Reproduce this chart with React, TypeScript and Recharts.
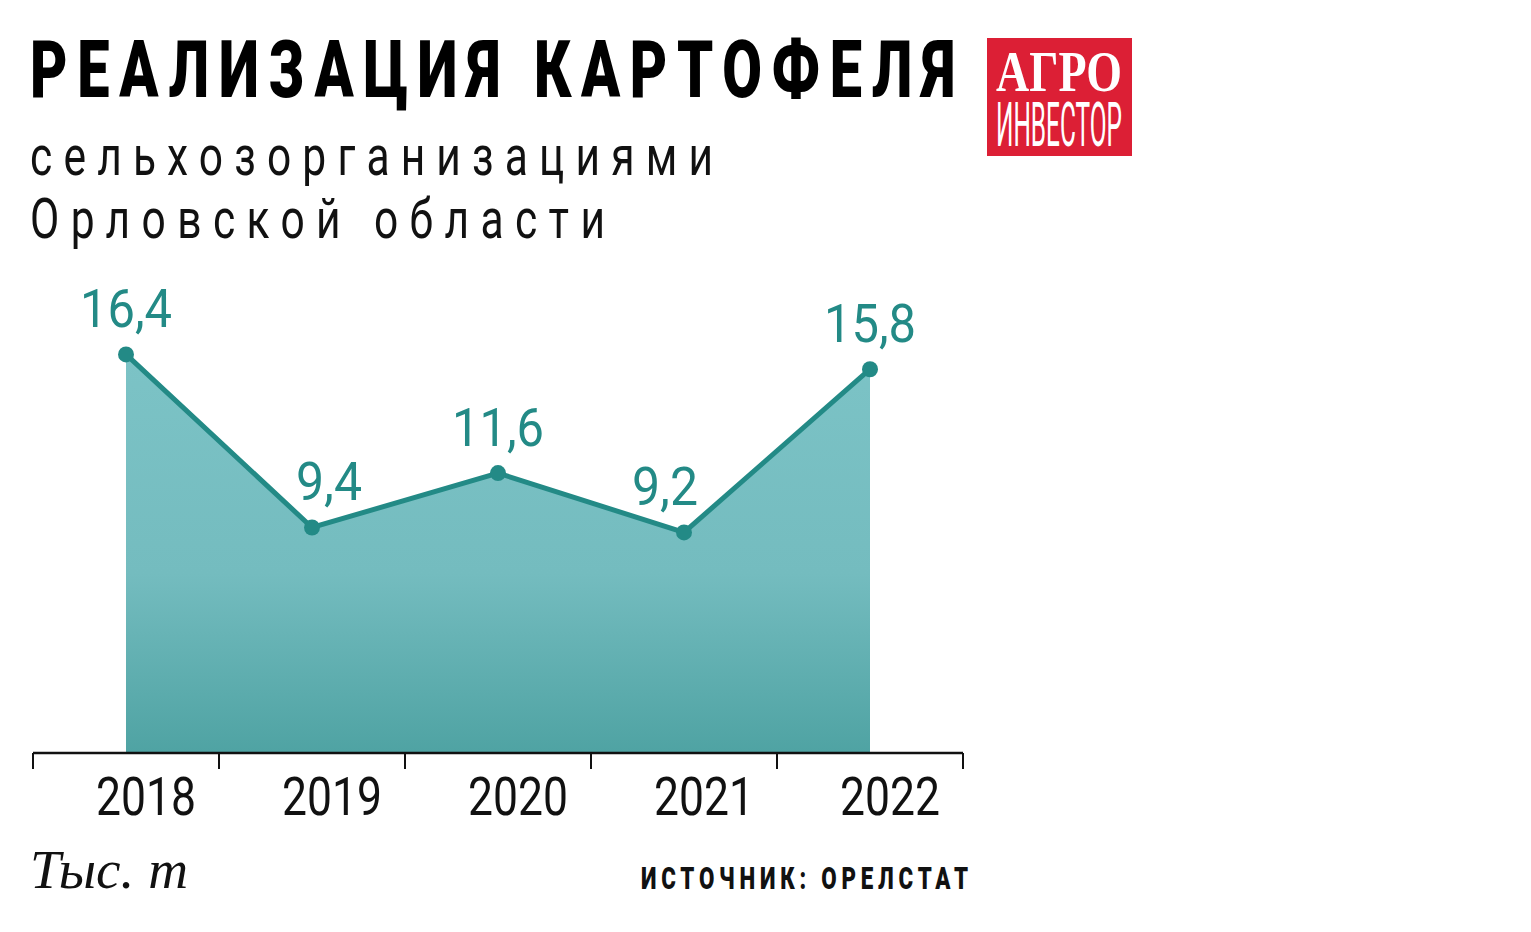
import { AreaChart, Area, XAxis, YAxis, LabelList } from 'recharts';

const years = ['2018', '2019', '2020', '2021', '2022'];
const values = [16.4, 9.4, 11.6, 9.2, 15.8];
const valueLabels = ['16,4', '9,4', '11,6', '9,2', '15,8'];
const boundaryTicks = [0, 1, 2, 3, 4, 5];

const TEAL = '#238a86';

const chartData = years.map((year, i) => ({
  year,
  idx: i,
  value: values[i],
  label: valueLabels[i],
}));

const YearTick = ({ x, y, payload }: any) => (
  <text
    x={x + 20}
    y={y + 53}
    textAnchor="middle"
    fontFamily="Roboto"
    fontSize={54}
    fill="#111"
    textLength={100}
    lengthAdjust="spacingAndGlyphs"
  >
    {payload.value}
  </text>
);

// valley labels are nudged away from the steeper side so they clear the line
const ValueLabel = ({ x, y, value, index }: any) => {
  const prev = values[index - 1];
  const next = values[index + 1];
  const cur = values[index];
  let dx = 0;
  if (prev !== undefined && next !== undefined && cur < prev && cur < next) {
    dx = prev - cur > next - cur ? 17 : -19;
  }
  return (
    <text
      x={x + dx}
      y={y - 27}
      textAnchor="middle"
      fontFamily="Roboto"
      fontSize={54}
      fill={TEAL}
      textLength={value.length > 3 ? 92 : 66}
      lengthAdjust="spacingAndGlyphs"
    >
      {value}
    </text>
  );
};

// condensed, letter-spaced text: glyphs squeezed by sx, gaps stretched to fill width
const Spaced = ({ x, y, width, sx, children, ...rest }: any) => (
  <text
    transform={`translate(${x},${y}) scale(${sx},1)`}
    textLength={width / sx}
    lengthAdjust="spacing"
    {...rest}
  >
    {children}
  </text>
);

const App = () => {
  return (
    <div style={{ position: 'absolute', left: 0, top: 0, width: 1531, height: 932, background: '#fff' }}>
      <AreaChart
        width={1000}
        height={860}
        data={chartData}
        margin={{ top: 300, right: 37, left: 33, bottom: 46 }}
        style={{ position: 'absolute', left: 0, top: 0 }}
      >
        <defs>
          <linearGradient id="fillGrad" x1="0" y1="0" x2="0" y2="1">
            <stop offset="0%" stopColor="#7cc3c6" />
            <stop offset="55%" stopColor="#74bcbf" />
            <stop offset="100%" stopColor="#4fa3a3" />
          </linearGradient>
        </defs>
        <XAxis
          xAxisId="b"
          dataKey="idx"
          type="number"
          domain={[0, 5]}
          allowDataOverflow
          ticks={boundaryTicks}
          interval={0}
          height={1}
          tickFormatter={() => ''}
          tickSize={16}
          axisLine={{ stroke: '#111', strokeWidth: 2.5 }}
          tickLine={{ stroke: '#111', strokeWidth: 2 }}
        />
        <XAxis
          xAxisId="cat"
          dataKey="year"
          padding={{ left: 93, right: 93 }}
          height={60}
          axisLine={false}
          tickLine={false}
          tick={<YearTick />}
          interval={0}
        />
        <YAxis hide domain={[0.28, 18.6]} />
        <Area
          xAxisId="cat"
          type="linear"
          dataKey="value"
          stroke={TEAL}
          strokeWidth={5}
          fill="url(#fillGrad)"
          fillOpacity={1}
          dot={{ r: 8, fill: TEAL, stroke: 'none' }}
          activeDot={false}
          isAnimationActive={false}
        >
          <LabelList dataKey="label" content={<ValueLabel />} />
        </Area>
      </AreaChart>

      <svg width={1531} height={932} style={{ position: 'absolute', left: 0, top: 0, pointerEvents: 'none' }}>
        <Spaced x={30} y={97} width={925} sx={0.72} fontFamily="Roboto" fontWeight={900} fontSize={80} fill="#000">
          РЕАЛИЗАЦИЯ КАРТОФЕЛЯ
        </Spaced>
        <Spaced x={30} y={175} width={683} sx={0.76} fontFamily="Roboto" fontSize={56} fill="#111">
          сельхозорганизациями
        </Spaced>
        <Spaced x={30} y={238} width={575} sx={0.76} fontFamily="Roboto" fontSize={56} fill="#111">
          Орловской области
        </Spaced>

        <rect x={987} y={38} width={145} height={118} fill="#dc1f35" />
        <text fill="#fff">
          <tspan
            x={996}
            y={91}
            fontFamily="Liberation Serif"
            fontWeight={700}
            fontSize={56}
            textLength={126}
            lengthAdjust="spacingAndGlyphs"
          >
            АГРО
          </tspan>
          <tspan
            x={996}
            y={146}
            fontFamily="Roboto"
            fontSize={62}
            textLength={126}
            lengthAdjust="spacingAndGlyphs"
          >
            ИНВЕСТОР
          </tspan>
        </text>

        <text x={30} y={888} fontFamily="Liberation Serif" fontStyle="italic" fontSize={54} fill="#111" textLength={158} lengthAdjust="spacingAndGlyphs">
          Тыс. т
        </text>
        <Spaced x={641} y={889} width={327} sx={0.72} fontFamily="Roboto" fontWeight={900} fontSize={31} fill="#111">
          ИСТОЧНИК: ОРЕЛСТАТ
        </Spaced>
      </svg>
    </div>
  );
};

export default App;
